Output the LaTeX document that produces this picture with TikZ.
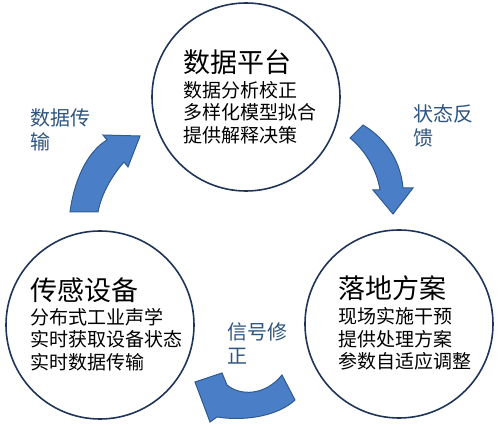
\documentclass[tikz,border=0pt]{standalone}
\usepackage{fontspec}
\setmainfont{Noto Sans CJK SC}
\definecolor{ringcol}{HTML}{1F3458}
\definecolor{arrowfill}{HTML}{4A7FC8}
\definecolor{arrowline}{HTML}{2F5A8E}
\definecolor{labelcol}{HTML}{2E5580}
\begin{document}
\begin{tikzpicture}[x=0.5pt,y=-0.5pt,
  ring/.style={circle,draw=ringcol,line width=0.8pt,minimum size=94pt,inner sep=0pt},
  titletext/.style={anchor=west,inner sep=0pt,font=\fontsize{13.5}{16}\selectfont,text=black},
  bodytext/.style={anchor=west,inner sep=0pt,align=left,font=\fontsize{9.5}{11.25}\selectfont,text=black},
  labeltext/.style={anchor=west,inner sep=0pt,align=left,font=\fontsize{10}{12}\selectfont,text=labelcol},
  arrowshape/.style={fill=arrowfill,draw=arrowline,line width=0.5pt,line join=miter}]
\useasboundingbox (0,0) rectangle (500,427);
% circles
\node[ring] (platform) at (246,97) {};
\node[ring] (sensor) at (100,325) {};
\node[ring] (plan) at (399,324) {};
% texts in circles
\node[titletext] (t1) at (183,62) {数据平台};
\node[bodytext] (b1) at (183,112.5) {数据分析校正\\多样化模型拟合\\提供解释决策};
\node[titletext] (t2) at (30,290) {传感设备};
\node[bodytext] (b2) at (30,339.5) {分布式工业声学\\实时获取设备状态\\实时数据传输};
\node[titletext] (t3) at (338,288.5) {落地方案};
\node[bodytext] (b3) at (338,339) {现场实施干预\\提供处理方案\\参数自适应调整};
% labels
\node[labeltext] (l1) at (30,129.5) {数据传\\输};
\node[labeltext] (l2) at (413,126) {状态反\\馈};
\node[labeltext] (l3) at (227,343) {信号修\\正};
% arrows
\path[arrowshape] (70,212) -- (98,212) .. controls (101,196) and (110,178) .. (124,162)
  -- (128,167) -- (140,136) -- (103,135) -- (107,140)
  .. controls (90,150) and (75,175) .. (70,212) -- cycle;
\path[arrowshape] (350,138) -- (363,125) .. controls (380,135) and (400,155) .. (403,188)
  -- (413,188) -- (393,214) -- (373,190) -- (380,190)
  .. controls (377,170) and (365,150) .. (350,138) -- cycle;
\path[arrowshape] (282,375) -- (295,400) .. controls (280,414) and (250,422) .. (217,417)
  -- (210,422) -- (195,382) -- (222,373) -- (227,385)
  .. controls (240,396) and (265,396) .. (282,375) -- cycle;
\end{tikzpicture}
\end{document}
